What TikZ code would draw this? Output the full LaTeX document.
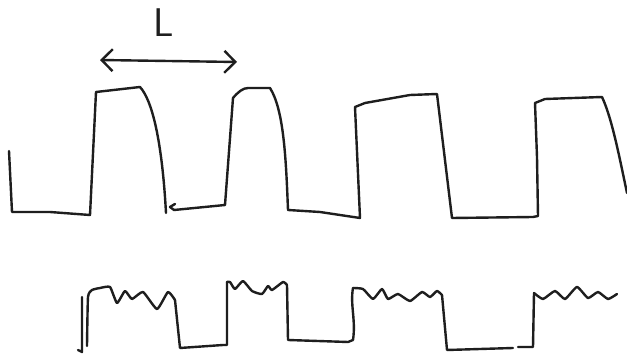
\documentclass[tikz,border=0pt]{standalone}
\usetikzlibrary{arrows.meta}
\definecolor{ink}{HTML}{1E1E1E}
\tikzset{
  pen/.style={draw=ink, line width=2.4pt, line join=round, line cap=round},
  wig/.style={pen, smooth, tension=0.3},
  lbl/.style={text=ink, font=\sffamily\fontsize{40}{40}\selectfont, inner sep=0pt}
}
\begin{document}
\begin{tikzpicture}[x=1pt,y=-1pt]
\useasboundingbox[fill=white] (0,0) rectangle (627,355);

% label and arrow
\node[lbl] (L) at (164,23) {L};
\coordinate (al) at (100,60);
\coordinate (ar) at (237,62);
\draw[pen, {Straight Barb[length=11pt,width=22pt,line width=2.4pt]}-{Straight Barb[length=11pt,width=22pt,line width=2.4pt]}] (al) -- (ar);

% top waveform
\draw[pen] (9,151) -- (12,212) -- (50,212) -- (90,215) -- (96,92) -- (140,87)
  .. controls (152,100) and (162,140) .. (166,213);
\draw[pen] (175,204) -- (170,207) -- (174,210) -- (225,205) -- (233,98)
  .. controls (238,92) and (243,88) .. (248,88) -- (270,88)
  .. controls (284,110) and (286,160) .. (288,210) -- (320,212) -- (360,218)
  -- (355,107) -- (365,103) -- (410,95) -- (437,94) -- (452,218)
  -- (533,217) -- (538,216) -- (537,157) -- (535,103) -- (545,99) -- (602,97)
  .. controls (612,118) and (620,160) .. (627,193);

% bottom waveform
\draw[pen] (82,297) -- (82,352) -- (78,350);
\draw[wig] plot coordinates {(87,346) (88,297) (92,290) (100,288) (110,287)
  (117,303) (125,291) (132,299) (143,292) (157,309) (168,292) (175,300)};
\draw[pen] (175,300) -- (180,348) -- (223,345) -- (227,345) -- (227,282);
\draw[wig] plot coordinates {(227,282) (230,282) (235,289) (243,281) (252,291)
  (262,294) (268,286) (272,290) (283,282) (287,285)};
\draw[pen] (287,285) -- (288,340) -- (348,342) -- (353,340)
  .. controls (356,320) and (350,305) .. (353,288);
\draw[wig] plot coordinates {(353,288) (363,289) (373,299) (382,289) (388,299)
  (398,294) (410,301) (422,292) (430,297) (437,291) (442,295)};
\draw[pen] (442,295) -- (447,350) -- (513,348);
\draw[pen] (518,347) -- (533,347) -- (534,293);
\draw[wig] plot coordinates {(534,293) (543,299) (555,291) (565,299) (577,287)
  (588,298) (598,292) (608,299) (617,294)};
\end{tikzpicture}
\end{document}
